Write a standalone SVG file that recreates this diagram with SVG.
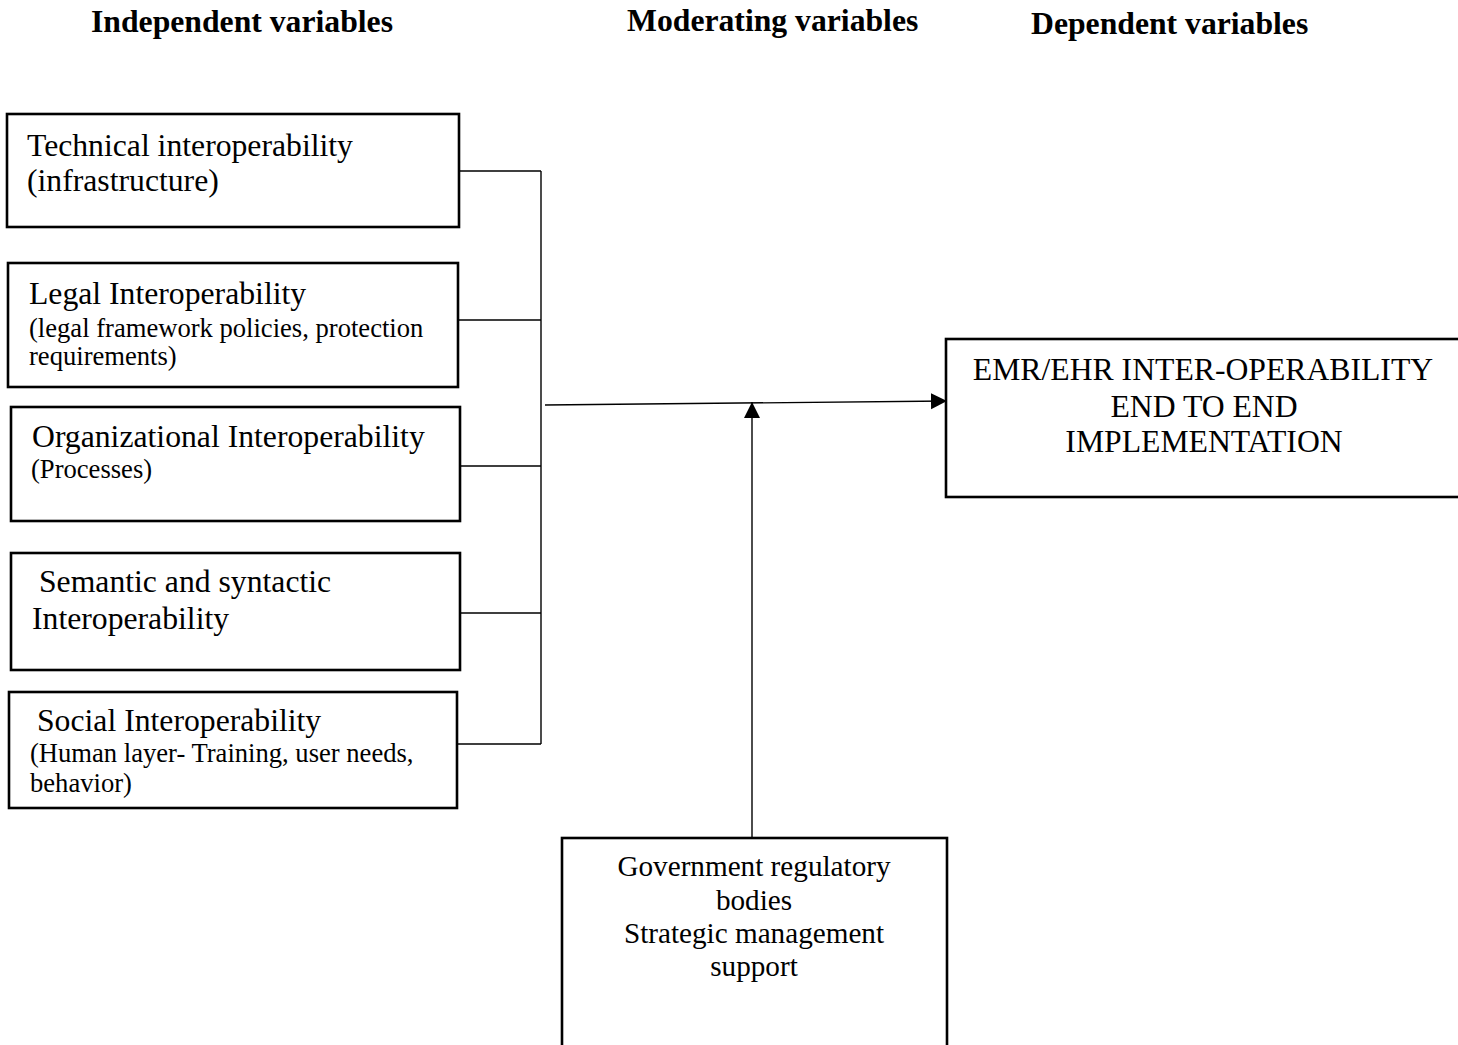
<svg xmlns="http://www.w3.org/2000/svg" width="1458" height="1045" viewBox="0 0 1458 1045">
  <style>
    .box { fill: #ffffff; stroke: #000000; stroke-width: 2.6; }
    .wire { fill: none; stroke: #000000; stroke-width: 1.4; }
    .head { font-family: "Liberation Serif", "Times New Roman", serif; font-weight: bold; font-size: 31.7px; fill: #000000; }
    .main { font-family: "Liberation Serif", "Times New Roman", serif; font-size: 31.7px; fill: #000000; }
    .sub { font-family: "Liberation Serif", "Times New Roman", serif; font-size: 26.6px; fill: #000000; }
    .mod { font-family: "Liberation Serif", "Times New Roman", serif; font-size: 29.2px; fill: #000000; text-anchor: middle; }
    .mid { text-anchor: middle; }
  </style>
  <defs>
    <marker id="arrow" markerUnits="userSpaceOnUse" markerWidth="17" markerHeight="17" refX="16" refY="8" orient="auto">
      <path d="M0,0 L16,8 L0,16 Z" fill="#000000"/>
    </marker>
  </defs>

  <rect width="1458" height="1045" fill="#ffffff"/>

  <!-- column headings -->
  <g id="headings">
    <text class="head" x="91" y="32">Independent variables</text>
    <text class="head" x="627" y="31">Moderating variables</text>
    <text class="head" x="1031" y="34">Dependent variables</text>
  </g>

  <!-- connectors: feeder stubs, bus, main arrow and moderator arrow -->
  <g id="connectors">
    <path class="wire" d="M459,171 H541 M458,320 H541 M460,466 H541 M460,613 H541 M457,744 H541 M541,171 V744"/>
    <line class="wire" x1="545" y1="405" x2="947" y2="401" marker-end="url(#arrow)"/>
    <line class="wire" x1="752" y1="838" x2="752" y2="402" marker-end="url(#arrow)"/>
  </g>

  <g id="technical">
    <rect class="box" x="7" y="114" width="452" height="113"/>
    <text class="main" x="27" y="156">Technical interoperability</text>
    <text class="main" x="27" y="191">(infrastructure)</text>
  </g>

  <g id="legal">
    <rect class="box" x="8" y="263" width="450" height="124"/>
    <text class="main" x="29" y="304">Legal Interoperability</text>
    <text class="sub" x="29" y="337">(legal framework policies, protection</text>
    <text class="sub" x="29" y="365">requirements)</text>
  </g>

  <g id="organizational">
    <rect class="box" x="11" y="407" width="449" height="114"/>
    <text class="main" x="32" y="447">Organizational Interoperability</text>
    <text class="sub" x="31" y="478">(Processes)</text>
  </g>

  <g id="semantic">
    <rect class="box" x="11" y="553" width="449" height="117"/>
    <text class="main" x="39" y="592">Semantic and syntactic</text>
    <text class="main" x="32" y="629">Interoperability</text>
  </g>

  <g id="social">
    <rect class="box" x="9" y="692" width="448" height="116"/>
    <text class="main" x="37" y="731">Social Interoperability</text>
    <text class="sub" x="30" y="762">(Human layer- Training, user needs,</text>
    <text class="sub" x="30" y="792">behavior)</text>
  </g>

  <g id="outcome">
    <rect class="box" x="946" y="339" width="530" height="158"/>
    <text class="main mid" x="1203" y="380">EMR/EHR INTER-OPERABILITY</text>
    <text class="main mid" x="1204" y="417">END TO END</text>
    <text class="main mid" x="1204" y="452">IMPLEMENTATION</text>
  </g>

  <g id="moderators">
    <rect class="box" x="562" y="838" width="385" height="230"/>
    <text class="mod" x="754" y="876">Government regulatory</text>
    <text class="mod" x="754" y="910">bodies</text>
    <text class="mod" x="754" y="943">Strategic management</text>
    <text class="mod" x="754" y="976">support</text>
  </g>
</svg>
